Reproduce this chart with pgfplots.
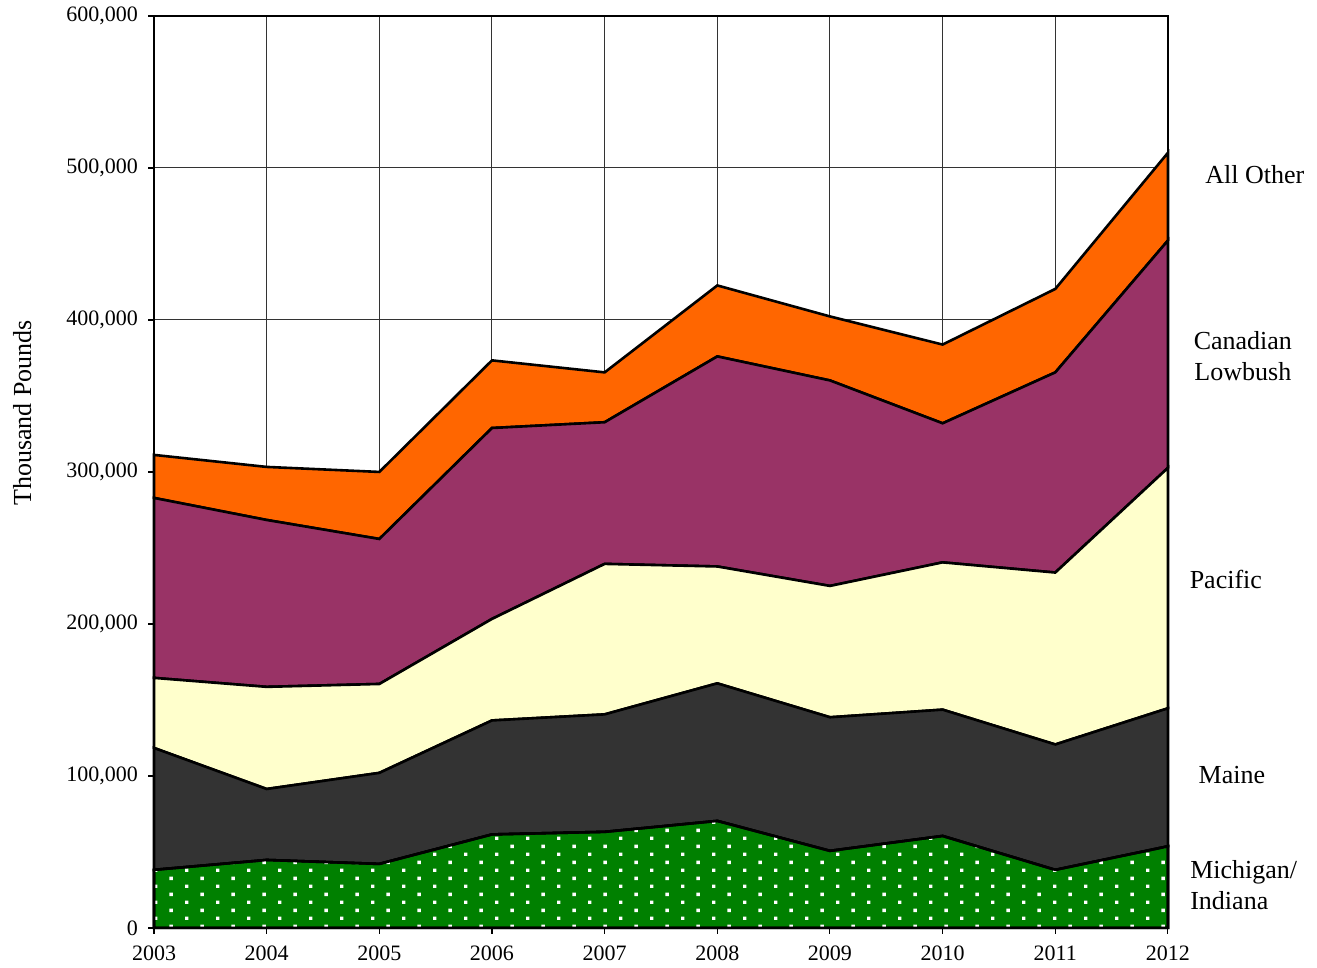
\documentclass[border=0pt]{standalone}
\usepackage{fontspec}
\setmainfont{Liberation Serif}
\usepackage{pgfplots}
\usepackage{pgfplotstable}
\pgfplotsset{compat=1.18}
\usetikzlibrary{patterns}
\definecolor{mgreen}{RGB}{0,128,0}
\definecolor{maine}{RGB}{51,51,51}
\definecolor{pacific}{RGB}{255,255,204}
\definecolor{canlow}{RGB}{153,51,102}
\definecolor{allother}{RGB}{255,102,0}
\pgfdeclarepatternformonly{stagdots}{\pgfpointorigin}{\pgfpoint{15.5pt}{8pt}}{\pgfpoint{15.5pt}{8pt}}{%
  \pgfpathrectangle{\pgfpoint{0pt}{0pt}}{\pgfpoint{1.7pt}{1.7pt}}%
  \pgfpathrectangle{\pgfpoint{7.75pt}{4pt}}{\pgfpoint{1.7pt}{1.7pt}}%
  \pgfusepath{fill}%
}
\pgfplotstableread{
year mich  maine pacific canada other
2003 38200 80200 46100  118400 28300
2004 44700 46700 67200  109800 34900
2005 42100 59900 58500  95400  44100
2006 61500 75000 66800  125600 44500
2007 63200 77300 99000  93200  32800
2008 70400 90500 76900  138200 46700
2009 50700 87900 86400  135200 42100
2010 60500 83100 96900  91500  51800
2011 38200 82500 113100 131700 54900
2012 53700 90800 158200 149600 57700
}\datatable
\begin{document}
\begin{tikzpicture}
\begin{axis}[
  scale only axis, width=507pt, height=456pt,
  xmin=2003, xmax=2012, ymin=0, ymax=600000,
  xtick={2003,2004,...,2012}, ytick={0,100000,...,600000},
  scaled y ticks=false, scaled x ticks=false,
  grid=major, major grid style={line width=0.5pt, draw=black!80},
  axis line style={line width=0.6pt, black},
  tick style={line width=0.6pt, black},
  tick align=outside, major tick length=3pt,
  xtick pos=left, ytick pos=left,
  x tick label style={/pgf/number format/.cd, fixed, precision=0, 1000 sep={}, /tikz/.cd, yshift=-2.5pt},
  y tick label style={/pgf/number format/.cd, fixed, precision=0, 1000 sep={,}, /tikz/.cd, xshift=-1.5pt},
  /pgf/number format/assume math mode=true,
  tick label style={font=\fontsize{11}{12}\selectfont, black},
  stack plots=y,
  clip=false,
]
\addplot[draw=black, line width=1.3pt, preaction={fill=mgreen}, pattern=stagdots, pattern color=white] table[x=year,y=mich]{\datatable} \closedcycle;
\addplot[draw=black, line width=1.3pt, fill=maine] table[x=year,y=maine]{\datatable} \closedcycle;
\addplot[draw=black, line width=1.3pt, fill=pacific] table[x=year,y=pacific]{\datatable} \closedcycle;
\addplot[draw=black, line width=1.3pt, fill=canlow] table[x=year,y=canada]{\datatable} \closedcycle;
\addplot[draw=black, line width=1.3pt, fill=allother] table[x=year,y=other]{\datatable} \closedcycle;
\path (rel axis cs:-0.1519,-0.0428) rectangle (rel axis cs:1.1470,1.0175);
\node[rotate=90, font=\fontsize{13}{15}\selectfont] at (rel axis cs:-0.130,0.5647) {Thousand Pounds};
\node[font=\fontsize{13}{15.5}\selectfont] at (axis cs:2012.772,495400) {All Other};
\node[font=\fontsize{13}{15.5}\selectfont, align=center] at (axis cs:2012.665,376300) {Canadian\\Lowbush};
\node[font=\fontsize{13}{15.5}\selectfont] at (axis cs:2012.514,229000) {Pacific};
\node[font=\fontsize{13}{15.5}\selectfont] at (axis cs:2012.568,100700) {Maine};
\node[font=\fontsize{13}{15.5}\selectfont, align=left, anchor=west, inner xsep=0pt] at (axis cs:2012.195,28300) {Michigan/\\Indiana};
\end{axis}
\end{tikzpicture}
\end{document}
